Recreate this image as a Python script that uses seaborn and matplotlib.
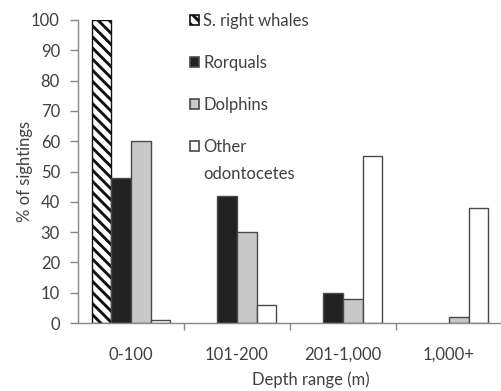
import matplotlib
matplotlib.use("Agg")
import matplotlib.pyplot as plt
import seaborn as sns
import pandas as pd

# Sightings by depth range (% of sightings for each group)
depth_ranges = ["0-100", "101-200", "201-1,000", "1,000+"]
species = ["S. right whales", "Rorquals", "Dolphins", "Other odontocetes"]
right_whales = [100, 0, 0, 0]
rorquals = [48, 42, 10, 0]
dolphins = [60, 30, 8, 2]
other_odontocetes = [1, 6, 55, 38]
y_ticks = [0, 10, 20, 30, 40, 50, 60, 70, 80, 90, 100]

sns.set_theme(style="white")
plt.rcParams["font.family"] = ["Lato", "DejaVu Sans"]
plt.rcParams["hatch.linewidth"] = 2.1

TEXT = "#404040"
AXIS = "#888888"
FS = 12
BACKSLASH = chr(92)

df = pd.DataFrame({
    "depth": depth_ranges * 4,
    "group": [s for s in species for _ in depth_ranges],
    "pct": right_whales + rorquals + dolphins + other_odontocetes,
})

fig = plt.figure(figsize=(5.02, 3.91), dpi=100)
ax = fig.add_axes([78 / 502, 68 / 391, 424 / 502, 303 / 391])

sns.barplot(
    data=df, x="depth", y="pct", hue="group",
    order=depth_ranges, hue_order=species,
    palette=["white", "#222222", "#c8c8c8", "white"],
    saturation=1, width=0.74, gap=0,
    edgecolor="#4a4a4a", linewidth=1, legend=False, ax=ax,
)

# hatch the right-whale bars; hide empty (zero-height) bars
for p in ax.containers[0]:
    p.set_hatch(BACKSLASH * 3)
    p.set_edgecolor("#111111")
for cont in ax.containers:
    for p in cont:
        if p.get_height() == 0:
            p.set_visible(False)

ax.set_ylim(0, 100)
ax.set_yticks(y_ticks)
ax.set_xlim(-0.5, 3.5)

for s in ["top", "right"]:
    ax.spines[s].set_visible(False)
for s in ["left", "bottom"]:
    ax.spines[s].set_color(AXIS)
    ax.spines[s].set_linewidth(1)

ax.tick_params(axis="y", left=True, length=6, width=1, color=AXIS,
               pad=7, labelsize=FS, labelcolor=TEXT)
ax.set_xticks([0.5, 1.5, 2.5], minor=True)
ax.tick_params(axis="x", which="major", bottom=False, length=0, pad=17,
               labelsize=FS, labelcolor=TEXT)
ax.tick_params(axis="x", which="minor", bottom=True, length=5, width=1,
               color=AXIS)

ax.set_ylabel("% of sightings", fontsize=FS, color=TEXT)
ax.yaxis.set_label_coords(-0.105, 0.5)
ax.set_xlabel("Depth range (m)", fontsize=FS, color=TEXT)
ax.xaxis.set_label_coords(0.55, -0.16)

# legend: label text for the last entry wraps onto a second line below it
handles = [cont[0] for cont in ax.containers]
leg_labels = ["S. right whales", "Rorquals", "Dolphins", "Other"]
leg = ax.legend(
    handles, leg_labels, loc="upper left",
    bbox_to_anchor=(190 / 502, 1 - 13 / 391), bbox_transform=fig.transFigure,
    frameon=False, fontsize=FS, handlelength=0.55, handleheight=0.55,
    handletextpad=0.25, labelspacing=1.55, borderpad=0, borderaxespad=0,
)
for t in leg.get_texts():
    t.set_color(TEXT)
for h in leg.legend_handles:
    h.set_linewidth(1.2)
    h.set_visible(True)

fig.canvas.draw()
bb = leg.get_texts()[3].get_window_extent()
fig.text(bb.x0 / fig.bbox.width, (bb.y0 - 27) / fig.bbox.height,
         "odontocetes", fontsize=FS, color=TEXT, ha="left", va="bottom")

fig.savefig("out.png", dpi=100)
